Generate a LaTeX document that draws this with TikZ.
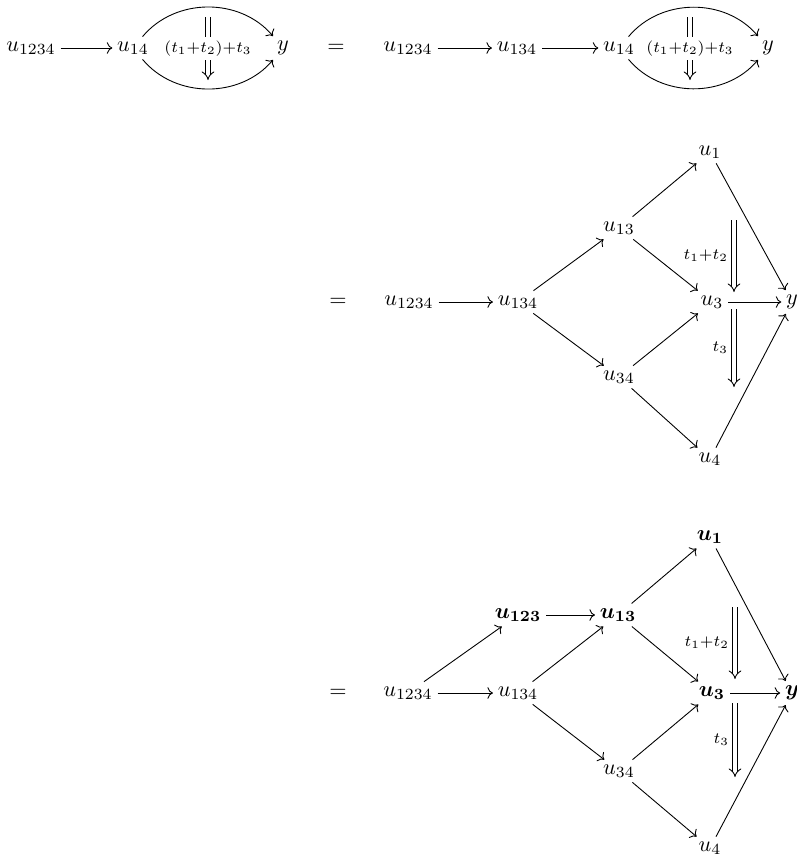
\documentclass[tikz,border=0pt]{standalone}
\usepackage{amssymb, amsmath}
\usetikzlibrary{arrows.meta}
\tikzset{obj/.style={inner sep=2pt},
  cell/.style={double,double distance=1.6pt,-{Implies}},
  celllab/.style={fill=white,inner sep=1.5pt},
  sidelab/.style={midway,left,inner sep=2.5pt},
}

\begin{document}
\begin{tikzpicture}[x=0.45pt,y=-0.45pt]
      \useasboundingbox (0,0) rectangle (797,857);
      % top row, left side
      \node[obj] (a1234) at (31,48) {$u_{1234}$};
      \node[obj] (a14) at (133,48) {$u_{14}$};
      \node[obj] (ay) at (283,48) {$y$};
      \draw[->] (a1234)--(a14);
      \draw[->] (a14) to[bend left=50] (ay);
      \draw[->] (a14) to[bend right=50] (ay);
      \coordinate (at) at (208,17);
      \coordinate (ab) at (208,80);
      \draw[cell] (at)-- node[celllab] {$\scriptstyle (t_1+t_2)+t_3$} (ab);
      \node (eq1) at (336,48) {$=$};
      % top row, right side
      \node[obj] (b1234) at (408,48) {$u_{1234}$};
      \node[obj] (b134) at (517,48) {$u_{134}$};
      \node[obj] (b14) at (619,48) {$u_{14}$};
      \node[obj] (by) at (768,48) {$y$};
      \draw[->] (b1234)--(b134);
      \draw[->] (b134)--(b14);
      \draw[->] (b14) to[bend left=50] (by);
      \draw[->] (b14) to[bend right=50] (by);
      \coordinate (bt) at (690,17);
      \coordinate (bb) at (690,80);
      \draw[cell] (bt)-- node[celllab] {$\scriptstyle (t_1+t_2)+t_3$} (bb);
      % second diagram
      \node (eq2) at (338,302) {$=$};
      \node[obj] (c1234) at (409,302) {$u_{1234}$};
      \node[obj] (c134) at (518,302) {$u_{134}$};
      \node[obj] (c13) at (619,228) {$u_{13}$};
      \node[obj] (c34) at (619,377) {$u_{34}$};
      \node[obj] (c1) at (710,152) {$u_1$};
      \node[obj] (c3) at (712,302) {$u_3$};
      \node[obj] (c4) at (710,459) {$u_4$};
      \node[obj] (cy) at (792,302) {$y$};
      \draw[->] (c1234)--(c134);
      \draw[->] (c134)--(c13);
      \draw[->] (c134)--(c34);
      \draw[->] (c13)--(c1);
      \draw[->] (c13)--(c3);
      \draw[->] (c34)--(c3);
      \draw[->] (c34)--(c4);
      \draw[->] (c1)--(cy);
      \draw[->] (c3)--(cy);
      \draw[->] (c4)--(cy);
      \coordinate (c12t) at (734,220);
      \coordinate (c12b) at (734,292);
      \coordinate (c3t) at (734,309);
      \coordinate (c3b) at (734,387);
      \draw[cell] (c12t)-- node[sidelab] {$\scriptstyle t_1+t_2$} (c12b);
      \draw[cell] (c3t)-- node[sidelab] {$\scriptstyle t_3$} (c3b);
      % third diagram
      \node (eq3) at (338,693) {$=$};
      \node[obj] (d1234) at (408,693) {$u_{1234}$};
      \node[obj] (d134) at (518,693) {$u_{134}$};
      \node[obj] (d123) at (518,615) {$\boldsymbol{u_{123}}$};
      \node[obj] (d13) at (618,615) {$\boldsymbol{u_{13}}$};
      \node[obj] (d34) at (619,771) {$u_{34}$};
      \node[obj] (d1) at (710,537) {$\boldsymbol{u_1}$};
      \node[obj] (d3) at (712,693) {$\boldsymbol{u_3}$};
      \node[obj] (d4) at (710,848) {$u_4$};
      \node[obj] (dy) at (792,693) {$\boldsymbol{y}$};
      \draw[->] (d1234)--(d123);
      \draw[->] (d1234)--(d134);
      \draw[->] (d123)--(d13);
      \draw[->] (d134)--(d13);
      \draw[->] (d134)--(d34);
      \draw[->] (d13)--(d1);
      \draw[->] (d13)--(d3);
      \draw[->] (d34)--(d3);
      \draw[->] (d34)--(d4);
      \draw[->] (d1)--(dy);
      \draw[->] (d3)--(dy);
      \draw[->] (d4)--(dy);
      \coordinate (d12t) at (735,607);
      \coordinate (d12b) at (735,679);
      \coordinate (d3t) at (735,703);
      \coordinate (d3b) at (735,777);
      \draw[cell] (d12t)-- node[sidelab] {$\scriptstyle t_1+t_2$} (d12b);
      \draw[cell] (d3t)-- node[sidelab] {$\scriptstyle t_3$} (d3b);
    \end{tikzpicture}
\end{document}
